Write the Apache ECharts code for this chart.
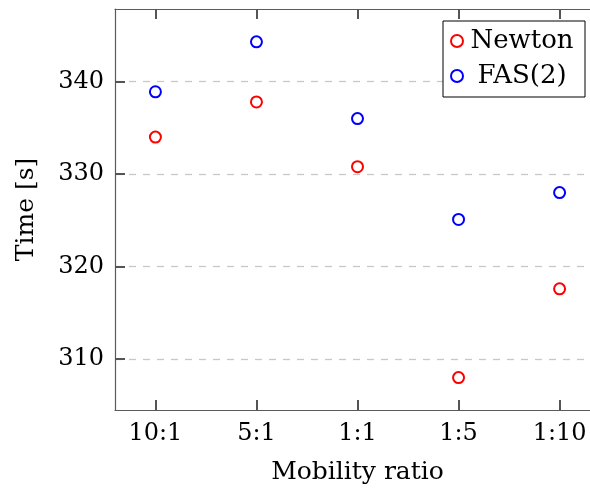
<!DOCTYPE html>
<html>
<head>
<meta charset="utf-8">
<script src="https://cdn.jsdelivr.net/npm/echarts@6/dist/echarts.min.js"></script>
<style>html,body{margin:0;padding:0;background:#fff}#c{width:590px;height:489px}</style>
</head>
<body>
<div id="c"></div>
<script>
const categories = ['10:1', '5:1', '1:1', '1:5', '1:10'];
const newton = [334.0, 337.8, 330.8, 308.0, 317.6];
const fas2 = [338.9, 344.3, 336.0, 325.1, 328.0];
const yTicks = [310, 320, 330, 340];
const seriesNames = ['Newton', 'FAS(2)'];

const font = 'DejaVu Serif';
const catIdx = categories.map((_, i) => i);
const chart = echarts.init(document.getElementById('c'), null, {renderer: 'canvas'});
const frame = {show: true, onZero: false, lineStyle: {color: '#5a5a5a', width: 1.2}};
const tick = (vals) => ({show: true, inside: true, length: 10, customValues: vals, lineStyle: {color: '#555555', width: 2}});
chart.setOption({
  animation: false,
  backgroundColor: '#fff',
  grid: {left: 115, top: 9, width: 485, height: 401, containLabel: false, outerBoundsMode: 'none'},
  xAxis: [{
    type: 'value', min: -0.4, max: 4.4, position: 'bottom',
    axisLine: frame,
    axisTick: tick(catIdx),
    axisLabel: {customValues: catIdx, formatter: v => categories[Math.round(v)] || '',
      fontFamily: font, fontSize: 24, color: '#000', margin: 12},
    splitLine: {show: false},
    name: 'Mobility ratio', nameLocation: 'middle', nameGap: 50,
    nameTextStyle: {fontFamily: font, fontSize: 25, color: '#000'}
  }, {
    type: 'value', min: -0.4, max: 4.4, position: 'top',
    axisLine: frame,
    axisTick: tick(catIdx),
    axisLabel: {show: false}, splitLine: {show: false}
  }],
  yAxis: [{
    type: 'value', min: 304.5, max: 347.85, position: 'left',
    axisLine: frame,
    axisTick: tick(yTicks),
    axisLabel: {customValues: yTicks, fontFamily: font, fontSize: 24, color: '#000', margin: 11},
    splitLine: {show: true, lineStyle: {color: '#c8c8c8', width: 1.3, type: [7, 7]}},
    name: 'Time [s]', nameLocation: 'middle', nameGap: 76, nameRotate: 90,
    nameTextStyle: {fontFamily: font, fontSize: 25, color: '#000'}
  }, {
    type: 'value', min: 304.5, max: 347.85, position: 'right',
    axisLine: frame,
    axisTick: tick(yTicks),
    axisLabel: {show: false}, splitLine: {show: false}
  }],
  legend: {
    orient: 'vertical', left: 443, top: 21,
    backgroundColor: '#fff', borderColor: '#000', borderWidth: 1,
    padding: [7, 9, 8, 7], itemGap: 9, itemWidth: 12, itemHeight: 12,
    data: seriesNames,
    formatter: n => '{a|' + n + '}',
    textStyle: {rich: {a: {fontFamily: font, fontSize: 26, color: '#000', width: 108, align: 'center', lineHeight: 28}}}
  },
  series: [{
    name: seriesNames[0], type: 'scatter', symbol: 'emptyCircle', symbolSize: 11,
    itemStyle: {color: '#ff0000', borderColor: '#ff0000', borderWidth: 1.2, opacity: 1},
    data: newton.map((v, i) => [i, v])
  }, {
    name: seriesNames[1], type: 'scatter', symbol: 'emptyCircle', symbolSize: 11,
    itemStyle: {color: '#0000ff', borderColor: '#0000ff', borderWidth: 1.2, opacity: 1},
    data: fas2.map((v, i) => [i, v])
  }]
});
</script>
</body>
</html>
